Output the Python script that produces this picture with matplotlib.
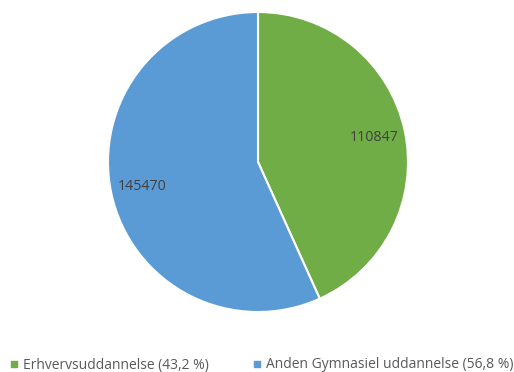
import matplotlib.pyplot as plt
from matplotlib.lines import Line2D

# Data
labels = ['Erhvervsuddannelse (43,2 %)', 'Anden Gymnasiel uddannelse (56,8 %)']
values = [110847, 145470]
colors = ['#70AD47', '#5B9BD5']

plt.rcParams['font.family'] = ['Open Sans', 'DejaVu Sans']

fig = plt.figure(figsize=(5.14, 3.72), dpi=100)
ax = fig.add_axes([108 / 514, 60 / 372, 300 / 514, 300 / 372])

wedges, texts = ax.pie(values, colors=colors, startangle=90, counterclock=False,
                       labels=[str(v) for v in values], labeldistance=0.79,
                       wedgeprops=dict(edgecolor='white', linewidth=1.5))
for t in texts:
    t.set_fontsize(10.3)
    t.set_color('#404040')
    t.set_ha('center')
    t.set_va('center')
ax.set_xlim(-1, 1)
ax.set_ylim(-1, 1)
ax.set_aspect('equal')

handles = [Line2D([], [], marker='s', linestyle='none', markersize=4.5,
                  markerfacecolor=c, markeredgecolor=c) for c in colors]
fig.legend(handles, labels, loc='center', bbox_to_anchor=(261.5 / 514, 1 - 365 / 372),
           ncol=2, frameon=False, fontsize=10, labelcolor='#595959',
           handlelength=0.6, handletextpad=0.35, columnspacing=3.15,
           borderpad=0, borderaxespad=0)

fig.savefig('out.png', dpi=100)
